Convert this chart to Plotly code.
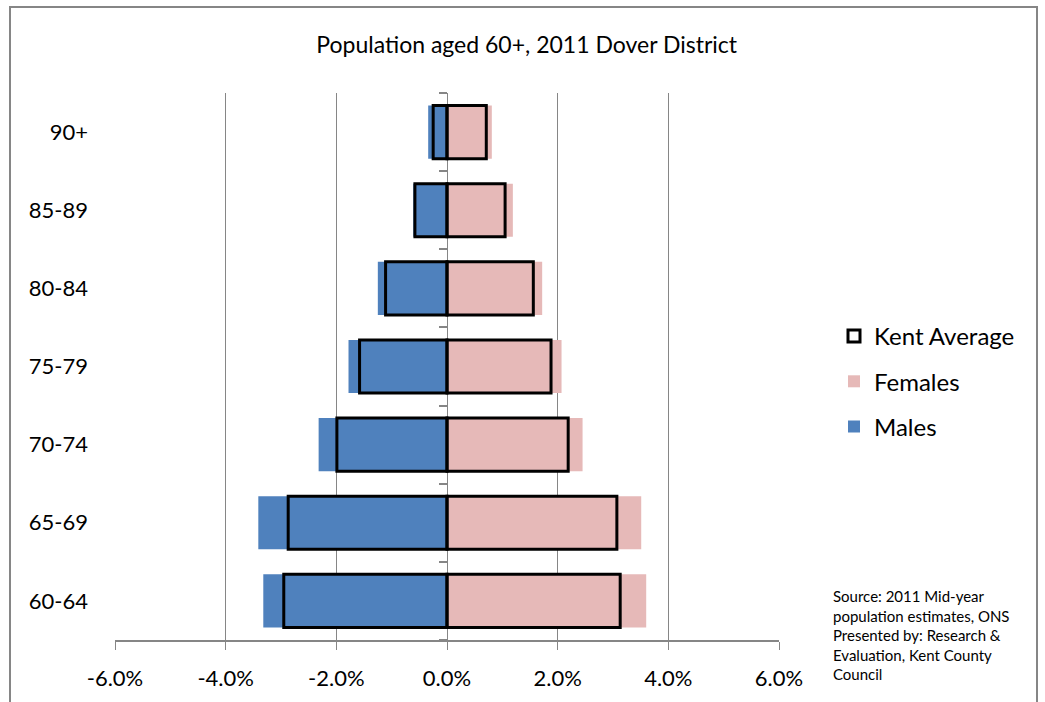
import plotly.graph_objects as go

# age bands, bottom to top
ages = ["60-64", "65-69", "70-74", "75-79", "80-84", "85-89", "90+"]

# Dover District, % of total population (males shown negative)
males = [-3.32, -3.41, -2.32, -1.78, -1.25, -0.61, -0.34]
females = [3.60, 3.51, 2.45, 2.07, 1.72, 1.19, 0.81]

# Kent average, % of total population
kent_males = [-2.95, -2.87, -1.99, -1.58, -1.11, -0.58, -0.25]
kent_females = [3.13, 3.07, 2.19, 1.88, 1.56, 1.05, 0.71]

x_ticks = [-6, -4, -2, 0, 2, 4, 6]

GRID = "#868686"
FONT = "Lato"

fig = go.Figure()

fig.add_trace(go.Bar(
    y=ages, x=males, orientation="h", name="Males",
    marker=dict(color="#4F81BD", line=dict(width=0)),
    width=0.68, legendgroup="m", legendrank=3,
))
fig.add_trace(go.Bar(
    y=ages, x=females, orientation="h", name="Females",
    marker=dict(color="#E6B9B8", line=dict(width=0)),
    width=0.68, legendgroup="f", legendrank=2,
))
fig.add_trace(go.Bar(
    y=ages, x=kent_males, orientation="h", name="Kent Average",
    marker=dict(color="rgba(0,0,0,0)", line=dict(color="black", width=3)),
    width=0.68, legendgroup="k", legendrank=1,
))
fig.add_trace(go.Bar(
    y=ages, x=kent_females, orientation="h", name="Kent Average",
    marker=dict(color="rgba(0,0,0,0)", line=dict(color="black", width=3)),
    width=0.68, legendgroup="k", legendrank=1, showlegend=False,
))
# carrier for the centre category axis (tick marks along 0%)
fig.add_trace(go.Scatter(
    y=ages, x=[0] * len(ages), yaxis="y2", mode="markers",
    marker=dict(opacity=0), showlegend=False, hoverinfo="skip",
))

fig.update_layout(
    width=1045, height=702,
    margin=dict(l=115, r=266, t=93, b=62),
    paper_bgcolor="white", plot_bgcolor="white",
    barmode="overlay",
    font=dict(family=FONT, color="black"),
    title=dict(
        text="Population aged 60+, 2011 Dover District",
        x=0.62, xref="paper", xanchor="center",
        y=1 - 45 / 702, yanchor="middle",
        font=dict(size=23, family=FONT, color="black"),
    ),
    xaxis=dict(
        range=[-6, 6], tickvals=x_ticks,
        ticktext=[f"{v:.1f}%" for v in x_ticks],
        showgrid=True, gridcolor=GRID, gridwidth=1,
        zeroline=True, zerolinecolor=GRID, zerolinewidth=1,
        showline=True, linecolor=GRID, linewidth=2,
        ticks="outside", ticklen=8, tickcolor=GRID, tickwidth=1,
        tickfont=dict(size=22), ticklabelstandoff=10,
    ),
    yaxis=dict(
        type="category", categoryorder="array", categoryarray=ages,
        range=[-0.5, 6.5], showgrid=False, zeroline=False,
        showline=False, ticks="", tickfont=dict(size=22),
        ticklabelstandoff=26,
    ),
    yaxis2=dict(
        type="category", categoryorder="array", categoryarray=ages,
        range=[-0.5, 6.5], overlaying="y", anchor="free", position=0.5,
        side="left", showline=False, showgrid=False, zeroline=False,
        ticks="outside", tickson="boundaries", ticklen=8,
        tickcolor=GRID, tickwidth=2, showticklabels=False,
    ),
    legend=dict(
        x=(834 - 115) / 664, xanchor="left",
        y=(640 - 314) / 547, yanchor="top",
        traceorder="grouped", tracegroupgap=11,
        font=dict(size=24, family=FONT), bgcolor="rgba(0,0,0,0)",
    ),
    showlegend=True,
)

fig.add_annotation(
    text=("Source: 2011 Mid-year<br>population estimates, ONS<br>"
          "Presented by: Research &<br>Evaluation, Kent County<br>Council"),
    xref="paper", yref="paper",
    x=(831 - 115) / 664, y=(640 - 585) / 547,
    xanchor="left", yanchor="top", align="left", showarrow=False,
    font=dict(size=15, family=FONT, color="black"),
)

# chart-area border
fig.add_shape(
    type="rect", xref="paper", yref="paper",
    x0=(10 - 115) / 664, x1=(1037 - 115) / 664,
    y0=(640 - 710) / 547, y1=(640 - 7) / 547,
    line=dict(color=GRID, width=2), fillcolor="rgba(0,0,0,0)", layer="below",
)

# page has a default 8px body margin; remove it so the figure sits at 0,0
fig.write_html(
    "out.html",
    config={"displayModeBar": False},
    post_script="document.body.style.margin='0';",
)
